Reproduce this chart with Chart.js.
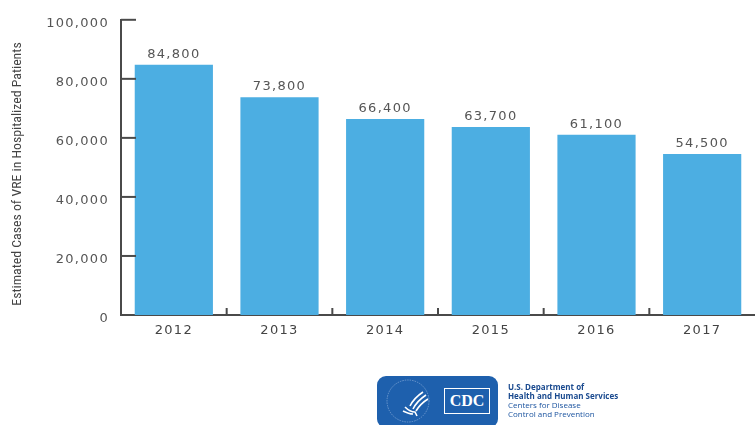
<!DOCTYPE html>
<html>
<head>
<meta charset="utf-8">
<script src="https://cdn.jsdelivr.net/npm/chart.js@4"></script>
<style>
    body { margin: 0; background: #fff; overflow: hidden; }
    #wrap { position: relative; width: 755px; height: 425px; }
    #logo { position: absolute; left: 377px; top: 376px; width: 121px; height: 52px; background: #1e60ad; border-radius: 9px; overflow: hidden; }
    #logo svg { position: absolute; left: 0; top: 0; }
    #logo .box { position: absolute; left: 67px; top: 12px; width: 44px; height: 24px; border: 1.5px solid #fff; color: #fff;
        font: bold 16px "Liberation Serif", serif; text-align: center; line-height: 24px; }
    #org { position: absolute; left: 508px; top: 382px; font: 8px "Open Sans", sans-serif; line-height: 9px; color: #1d55a0; }
    #org b { font-weight: 700; color: #1a4a8f; }
</style>
</head>
<body>
<div id="wrap">
    <canvas id="chart" width="755" height="425"></canvas>
    <div id="logo">
        <svg width="64" height="52" viewBox="0 0 64 52">
            <circle cx="31" cy="25" r="21" fill="none" stroke="#7ea5d6" stroke-width="0.8" stroke-dasharray="1.5 1"/>
            <path d="M46 16 C40 20 36 24 33 30 M49 19 C43 23 39 27 36 33 M51 23 C46 26 42 30 39 35" fill="none" stroke="#fff" stroke-width="1.6"/>
            <path d="M28 31 C31 34 34 36 38 36 L40 40 M26 35 C30 37 33 38 36 38" fill="none" stroke="#fff" stroke-width="1.6"/>
        </svg>
        <div class="box">CDC</div>
    </div>
    <div id="org"><b>U.S. Department of</b><br><b>Health and Human Services</b><br>Centers for Disease<br>Control and Prevention</div>
</div>
<script>
    const years = ["2012", "2013", "2014", "2015", "2016", "2017"];
    const cases = [84800, 73800, 66400, 63700, 61100, 54500];
    const yTicks = [0, 20000, 40000, 60000, 80000, 100000];
    const yTitle = "Estimated Cases of VRE in Hospitalized Patients";

    const axisColor = "#4a4a4a";
    const labelFont = { family: "'DejaVu Sans', sans-serif", size: 13 };

    // Wide letter spacing for the labels, like the original
    const spacing = {
        id: "spacing",
        beforeDraw(chart) {
            chart.ctx.letterSpacing = "1.3px";
        }
    };

    // Draw inner tick marks, value labels and the y title
    const extras = {
        id: "extras",
        afterDraw(chart) {
            const ctx = chart.ctx;
            const x = chart.scales.x;
            const y = chart.scales.y;
            const area = chart.chartArea;
            ctx.save();
            ctx.strokeStyle = axisColor;
            ctx.lineWidth = 2;
            yTicks.forEach(v => {
                if (v === 0) return;
                const py = y.getPixelForValue(v);
                ctx.beginPath();
                ctx.moveTo(area.left, py);
                ctx.lineTo(area.left + 15, py);
                ctx.stroke();
            });
            for (let i = 1; i < years.length; i++) {
                const px = (x.getPixelForTick(i - 1) + x.getPixelForTick(i)) / 2;
                ctx.beginPath();
                ctx.moveTo(px, area.bottom);
                ctx.lineTo(px, area.bottom - 7);
                ctx.stroke();
            }
            ctx.fillStyle = "#555";
            ctx.font = "13px 'DejaVu Sans', sans-serif";
            ctx.letterSpacing = "1.3px";
            ctx.textAlign = "center";
            ctx.textBaseline = "bottom";
            chart.getDatasetMeta(0).data.forEach((bar, i) => {
                ctx.fillText(cases[i].toLocaleString("en-US"), bar.x, bar.y - 4);
            });
            ctx.restore();

            ctx.save();
            ctx.letterSpacing = "0px";
            ctx.fillStyle = "#444";
            ctx.font = "12px 'Liberation Sans Narrow', 'Roboto Condensed', sans-serif";
            ctx.textAlign = "center";
            ctx.textBaseline = "middle";
            ctx.translate(18, 174);
            ctx.rotate(-Math.PI / 2);
            ctx.scale(1.15, 1);
            ctx.fillText(yTitle, 0, 0);
            ctx.restore();
        }
    };

    new Chart(document.getElementById("chart"), {
        type: "bar",
        data: {
            labels: years,
            datasets: [{
                data: cases,
                backgroundColor: "#4caee2",
                barPercentage: 0.74,
                categoryPercentage: 1
            }]
        },
        options: {
            responsive: false,
            animation: false,
            layout: { padding: { top: 19, right: 0, left: 0, bottom: 0 } },
            plugins: { legend: { display: false }, tooltip: { enabled: false } },
            scales: {
                x: {
                    afterFit: s => { s.height = 110; },
                    grid: { display: false, drawTicks: false },
                    border: { color: axisColor, width: 2 },
                    ticks: { color: "#444", font: labelFont, padding: 8 }
                },
                y: {
                    min: 0,
                    max: 100000,
                    afterFit: s => { s.width = 121; },
                    afterBuildTicks: s => { s.ticks = yTicks.map(v => ({ value: v })); },
                    grid: { display: false, drawTicks: false },
                    border: { color: axisColor, width: 2 },
                    ticks: {
                        color: "#555",
                        font: labelFont,
                        padding: 12,
                        labelOffset: 4,
                        callback: v => v.toLocaleString("en-US")
                    }
                }
            }
        },
        plugins: [spacing, extras]
    });
</script>
</body>
</html>
